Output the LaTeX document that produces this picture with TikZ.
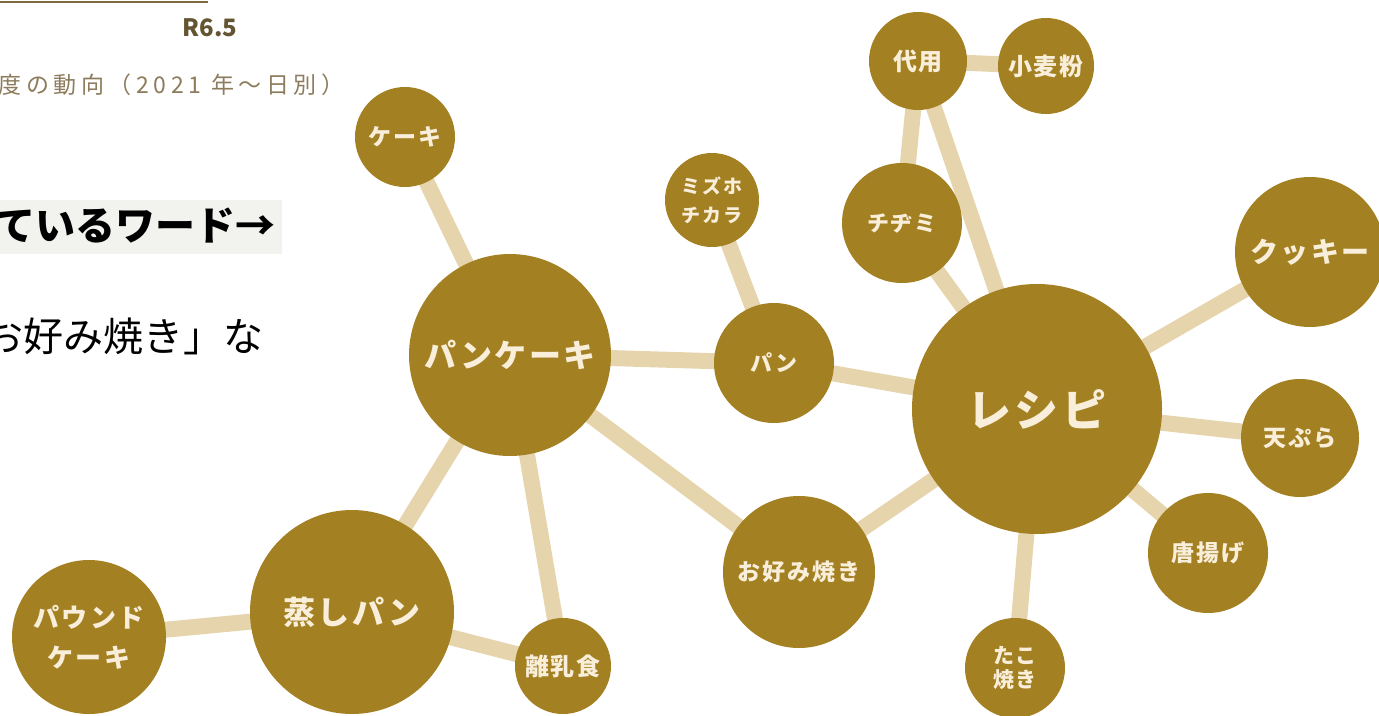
\documentclass[tikz,border=0pt]{standalone}
\usepackage{fontspec}
\usetikzlibrary{positioning}
\newfontfamily\jp{Noto Sans CJK JP}
\newfontfamily\jpls{Noto Sans CJK JP}[LetterSpace=8]
\newfontfamily\jpsub{Noto Sans CJK JP}[LetterSpace=20]
\definecolor{mustard}{HTML}{A38022}
\definecolor{linkbeige}{HTML}{E6D4AD}
\definecolor{cream}{HTML}{F8EEDA}
\definecolor{headbrown}{HTML}{7C6A3E}
\definecolor{subbrown}{HTML}{8C7B5C}
\definecolor{bannergray}{HTML}{F2F2EE}
\pgfdeclarelayer{bg}
\pgfsetlayers{bg,main}

\begin{document}
\begin{tikzpicture}[x=1pt,y=-1pt]
\tikzstyle{word}=[circle, fill=mustard, text=cream, inner sep=0pt, align=center]
\tikzstyle{link}=[draw=linkbeige, line width=16pt]
\useasboundingbox (0,0) rectangle (1379,715);
\clip (0,0) rectangle (1379,715);
% header on the left
\draw[headbrown, line width=1.5pt] (0,2) -- (208,2);
\node[text=headbrown!80!black, font=\jp\bfseries\fontsize{24}{24}\selectfont] (rev) at (210,28) {R6.5};
\node[anchor=east, text=subbrown, font=\jpsub\fontsize{23}{23}\selectfont] (sub) at (348,85) {度の動向（2021 年〜日別）};
\fill[bannergray] (0,200) rectangle (282,254);
\node[anchor=east, font=\jp\bfseries\fontsize{40}{40}\selectfont] (banner) at (279,226) {ているワード→};
\node[anchor=east, font=\jp\fontsize{40}{40}\selectfont] (note) at (267,336) {お好み焼き」な};
% word circles
\foreach \name/\x/\y/\r/\fs/\ls/\txt in {
    cake/405/137/50/23/23/ケーキ,
    pancake/510/355/101/32/32/パンケーキ,
    pan/774/363/60/22/22/パン,
    mizuho/712/200/47/19/29/ミズホ\\チカラ,
    daiyo/918/61/49/24/24/代用,
    komugi/1046/66/48/24/24/小麦粉,
    chijimi/902/223/60/22/22/チヂミ,
    recipe/1037/409/125/44/44/レシピ,
    cookie/1310/252/75/28/28/クッキー,
    tempura/1300/438/59/23/23/天ぷら,
    karaage/1208/553/60/23/23/唐揚げ,
    takoyaki/1015/668/50/21/24/たこ\\焼き,
    okonomi/799/572/76/23/23/お好み焼き,
    mushipan/352/612/102/32/32/蒸しパン,
    rinyu/563/666/48/24/24/離乳食,
    pound/89/637/77/26/40/パウンド\\ケーキ}
    \node[word, minimum size={2*\r}, font=\jpls\bfseries\fontsize{\fs}{\ls}\selectfont] (\name) at (\x,\y) {\txt};
% links behind the circles
\begin{pgfonlayer}{bg}
\foreach \a/\b in {cake/pancake, pancake/pan, pan/mizuho, pan/recipe, pancake/okonomi,
    pancake/mushipan, pancake/rinyu, mushipan/rinyu, mushipan/pound,
    recipe/chijimi, chijimi/daiyo, daiyo/komugi, daiyo/recipe, recipe/cookie,
    recipe/tempura, recipe/karaage, recipe/takoyaki, recipe/okonomi}
    \path[link] (\a.center) -- (\b.center);
\end{pgfonlayer}
\end{tikzpicture}
\end{document}
